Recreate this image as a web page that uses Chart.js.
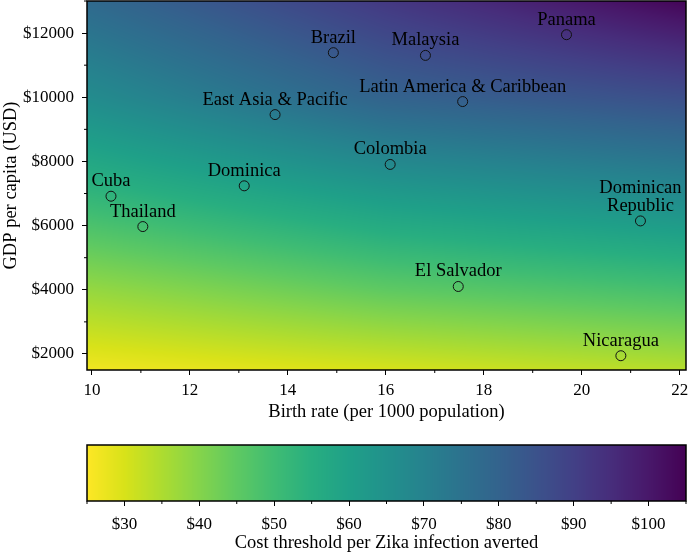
<!DOCTYPE html>
<html>
<head>
<meta charset="utf-8">
<script src="https://cdn.jsdelivr.net/npm/chart.js@4.4.1/dist/chart.umd.min.js"></script>
<style>
  body { margin: 0; background: #fff; }
  #wrap { position: relative; width: 688px; height: 554px; }
  #mainBox { position: absolute; left: 0; top: 0; width: 688px; height: 430px; }
  #barBox { position: absolute; left: 0; top: 430px; width: 688px; height: 124px; }
</style>
</head>
<body>
<div id="wrap">
  <div id="mainBox"><canvas id="mainChart"></canvas></div>
  <div id="barBox"><canvas id="colorBar"></canvas></div>
</div>
<script>
// data
const countries = [['Cuba'], ['Thailand'], ['Dominica'], ['East Asia & Pacific'], ['Brazil'], ['Malaysia'],
  ['Panama'], ['Latin America & Caribbean'], ['Colombia'], ['Dominican', 'Republic'], ['El Salvador'], ['Nicaragua']];
const birthRate = [10.39, 11.04, 13.11, 13.74, 14.93, 16.81, 19.69, 17.57, 16.09, 21.2, 17.48, 20.8];
const gdpPerCapita = [6916, 5970, 7240, 9460, 11390, 11305, 11950, 9866, 7907, 6146, 4103, 1945];

const xTicks = [10, 12, 14, 16, 18, 20, 22];
const yTicks = [2000, 4000, 6000, 8000, 10000, 12000];
const barTicks = [30, 40, 50, 60, 70, 80, 90, 100];

// cost threshold surface, estimated from the background colours
const costBirth = [10, 16, 22];
const costGdp = [1500, 4000, 7000, 10000, 13000];
const costAtBirth10 = [26.6, 38, 53, 67, 78];
const costAtBirth16 = [30, 45, 62, 80, 92];
const costAtBirth22 = [33.8, 49, 67.5, 86, 104];
const costRange = [25, 105];

// viridis colormap
const viridis = ['#440154', '#48186a', '#472d7b', '#424086', '#3b528b', '#33638d', '#2c728e', '#26828e',
  '#21918c', '#1fa088', '#28ae80', '#3fbc73', '#5ec962', '#84d44b', '#addc30', '#d8e219', '#fde725']
  .map(h => [parseInt(h.slice(1, 3), 16), parseInt(h.slice(3, 5), 16), parseInt(h.slice(5, 7), 16)]);

function viridisAt(t) {
  t = Math.min(1, Math.max(0, t));
  const p = t * (viridis.length - 1);
  const i = Math.min(viridis.length - 2, Math.floor(p));
  const f = p - i;
  const a = viridis[i], b = viridis[i + 1];
  return [a[0] + (b[0] - a[0]) * f, a[1] + (b[1] - a[1]) * f, a[2] + (b[2] - a[2]) * f];
}

// reversed map: cheap = yellow, expensive = purple
function costColor(v) {
  return viridisAt(1 - (v - costRange[0]) / (costRange[1] - costRange[0]));
}

function interp(xs, ys, v) {
  let i = 0;
  while (i < xs.length - 2 && v > xs[i + 1]) i++;
  const f = (v - xs[i]) / (xs[i + 1] - xs[i]);
  return ys[i] + (ys[i + 1] - ys[i]) * f;
}

function costAt(b, g) {
  const cols = [costAtBirth10, costAtBirth16, costAtBirth22].map(col => interp(costGdp, col, g));
  return interp(costBirth, cols, b);
}

const serif = "'Liberation Serif', 'Times New Roman', serif";
const textSize = 18.5;
Chart.defaults.font.family = serif;
Chart.defaults.font.size = 17;
Chart.defaults.color = '#000';

// paint the cost surface behind the points
const heatmapBg = {
  id: 'heatmapBg',
  beforeDatasetsDraw(chart) {
    const { ctx, chartArea: a, scales: { x, y } } = chart;
    const w = Math.ceil(a.right - a.left), h = Math.ceil(a.bottom - a.top);
    const off = document.createElement('canvas');
    off.width = w; off.height = h;
    const octx = off.getContext('2d');
    const img = octx.createImageData(w, h);
    for (let j = 0; j < h; j++) {
      const g = y.getValueForPixel(a.top + j + 0.5);
      for (let i = 0; i < w; i++) {
        const c = costColor(costAt(x.getValueForPixel(a.left + i + 0.5), g));
        const k = (j * w + i) * 4;
        img.data[k] = c[0]; img.data[k + 1] = c[1]; img.data[k + 2] = c[2]; img.data[k + 3] = 255;
      }
    }
    octx.putImageData(img, 0, 0);
    ctx.drawImage(off, a.left, a.top);
  }
};

// colorbar gradient
const barGradient = {
  id: 'barGradient',
  beforeDatasetsDraw(chart) {
    const { ctx, chartArea: a, scales: { x } } = chart;
    for (let px = Math.floor(a.left); px < a.right; px++) {
      const c = costColor(x.getValueForPixel(px + 0.5));
      ctx.fillStyle = 'rgb(' + c.map(Math.round).join(',') + ')';
      ctx.fillRect(px, a.top, 1, a.bottom - a.top);
    }
  }
};

// black frame and the small minor ticks
const frameAndMinor = {
  id: 'frameAndMinor',
  afterDraw(chart, args, opts) {
    const { ctx, chartArea: a, scales } = chart;
    ctx.save();
    ctx.strokeStyle = '#000';
    ctx.lineWidth = 1;
    ctx.beginPath();
    (opts.minorX || []).forEach(v => {
      const px = scales.x.getPixelForValue(v);
      ctx.moveTo(px, a.bottom); ctx.lineTo(px, a.bottom + 3);
    });
    (opts.minorY || []).forEach(v => {
      const py = scales.y.getPixelForValue(v);
      ctx.moveTo(a.left - 3, py); ctx.lineTo(a.left, py);
    });
    ctx.stroke();
    ctx.lineWidth = 1.5;
    ctx.strokeRect(a.left, a.top, a.right - a.left, a.bottom - a.top);
    ctx.restore();
  }
};

// country names above the circles
const pointNames = {
  id: 'pointNames',
  afterDatasetsDraw(chart) {
    const { ctx } = chart;
    const meta = chart.getDatasetMeta(0);
    ctx.save();
    ctx.font = textSize + 'px ' + serif;
    ctx.fillStyle = '#000';
    ctx.textAlign = 'center';
    ctx.textBaseline = 'alphabetic';
    meta.data.forEach((pt, i) => {
      const lines = countries[i];
      lines.forEach((txt, k) => {
        ctx.fillText(txt, pt.x, pt.y - 10 - (lines.length - 1 - k) * 17.5);
      });
    });
    ctx.restore();
  }
};

function minorSteps(from, to, step) {
  const out = [];
  for (let v = from; v <= to + 1e-9; v += step) out.push(v);
  return out;
}

const noEdgePad = s => { s.paddingLeft = 0; s.paddingRight = 0; s.paddingTop = 0; s.paddingBottom = 0; };

new Chart(document.getElementById('mainChart'), {
  type: 'scatter',
  data: {
    datasets: [{
      data: birthRate.map((b, i) => ({ x: b, y: gdpPerCapita[i] })),
      pointRadius: 5,
      pointHoverRadius: 5,
      pointBorderWidth: 1,
      pointBorderColor: '#111',
      pointBackgroundColor: 'rgba(0,0,0,0)'
    }]
  },
  options: {
    responsive: true,
    maintainAspectRatio: false,
    animation: false,
    layout: { autoPadding: false, padding: { top: 1, right: 2, left: 0, bottom: 0 } },
    plugins: {
      legend: { display: false },
      tooltip: { enabled: false },
      frameAndMinor: {
        minorX: minorSteps(11, 21, 2),
        minorY: minorSteps(3000, 13000, 2000)
      }
    },
    scales: {
      x: {
        type: 'linear',
        min: 9.9,
        max: 22.13,
        afterBuildTicks: s => { s.ticks = xTicks.map(v => ({ value: v })); },
        afterFit: s => { s.height = 60; noEdgePad(s); },
        border: { display: false },
        grid: { drawOnChartArea: false, drawTicks: true, tickLength: 5, tickColor: '#000', tickWidth: 1 },
        ticks: { padding: 5, maxRotation: 0, callback: v => String(v) },
        title: { display: true, text: 'Birth rate (per 1000 population)', font: { size: textSize }, padding: { top: 0, bottom: 7 } }
      },
      y: {
        type: 'linear',
        min: 1500,
        max: 13000,
        afterBuildTicks: s => { s.ticks = yTicks.map(v => ({ value: v })); },
        afterFit: s => { s.width = 87; noEdgePad(s); },
        border: { display: false },
        grid: { drawOnChartArea: false, drawTicks: true, tickLength: 5, tickColor: '#000', tickWidth: 1 },
        ticks: { padding: 8, callback: v => '$' + v },
        title: { display: true, text: 'GDP per capita (USD)', font: { size: textSize }, padding: 0 }
      }
    }
  },
  plugins: [heatmapBg, pointNames, frameAndMinor]
});

new Chart(document.getElementById('colorBar'), {
  type: 'scatter',
  data: { datasets: [{ data: [] }] },
  options: {
    responsive: true,
    maintainAspectRatio: false,
    animation: false,
    layout: { autoPadding: false, padding: { top: 15, right: 2, left: 87, bottom: 0 } },
    plugins: {
      legend: { display: false },
      tooltip: { enabled: false },
      frameAndMinor: { minorX: minorSteps(25, 105, 10) }
    },
    scales: {
      x: {
        type: 'linear',
        min: costRange[0],
        max: costRange[1],
        afterBuildTicks: s => { s.ticks = barTicks.map(v => ({ value: v })); },
        afterFit: s => { s.height = 53; noEdgePad(s); },
        border: { display: false },
        grid: { drawOnChartArea: false, drawTicks: true, tickLength: 5, tickColor: '#000', tickWidth: 1 },
        ticks: { padding: 8, maxRotation: 0, callback: v => '$' + v },
        title: { display: true, text: 'Cost threshold per Zika infection averted', font: { size: textSize }, padding: 0 }
      },
      y: { display: false, min: 0, max: 1 }
    }
  },
  plugins: [barGradient, frameAndMinor]
});
</script>
</body>
</html>
